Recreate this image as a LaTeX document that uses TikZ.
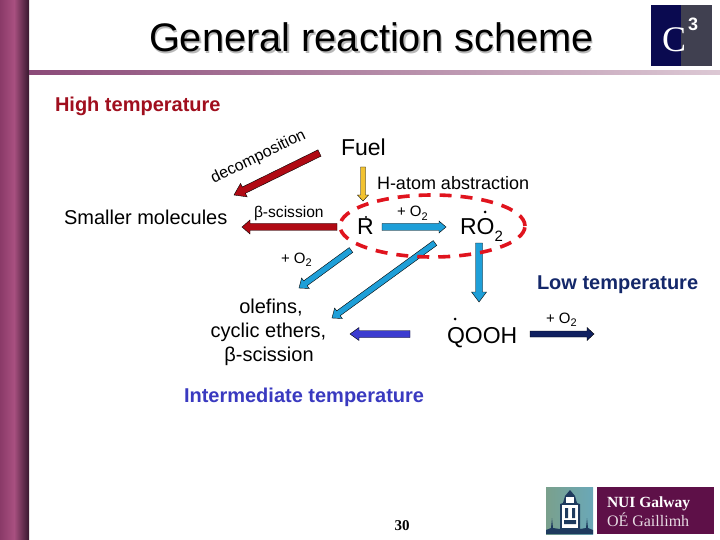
\documentclass[tikz,border=0pt]{standalone}
\usepackage{fontspec}
\setmainfont{Liberation Sans}
\newfontfamily\serifl{Liberation Serif}
\usetikzlibrary{calc,shapes.geometric}
\definecolor{hired}{HTML}{A00F1E}
\definecolor{darkred}{HTML}{B00A14}
\definecolor{ablue}{HTML}{1E9FD8}
\definecolor{indig}{HTML}{3A3AC0}
\definecolor{arrind}{HTML}{3C3CD0}
\definecolor{navyl}{HTML}{14286A}
\definecolor{arrnavy}{HTML}{0F2060}
\definecolor{dashr}{HTML}{E0141E}
\definecolor{yell}{HTML}{F2C230}
\definecolor{barlo}{HTML}{8A3A68}
\definecolor{barhi}{HTML}{A85080}
\definecolor{bardk}{HTML}{38182F}
\definecolor{rulea}{HTML}{8B4A78}
\definecolor{ruleb}{HTML}{DCC8D4}
\definecolor{logoa}{HTML}{0A0A50}
\definecolor{logob}{HTML}{404050}
\definecolor{nuip}{HTML}{5E1048}
\definecolor{nuig}{HTML}{7AA08C}
\definecolor{nuit}{HTML}{6AA8B8}
\definecolor{nuin}{HTML}{1E3A5E}
\newcommand{\blockarrow}[6]{%
  \coordinate (hb) at ($(#3)!#6pt!(#2)$);
  \draw[fill=#1,draw=black,line width=.4pt,line join=miter]
    ($(#2)!#4pt!90:(#3)$) -- ($(hb)!#4pt!90:(#3)$) -- ($(hb)!#5pt!90:(#3)$) -- (#3)
    -- ($(hb)!#5pt!-90:(#3)$) -- ($(hb)!#4pt!-90:(#3)$) -- ($(#2)!#4pt!-90:(#3)$) -- cycle;
}
\newcommand{\fs}[1]{\fontsize{#1}{#1}\selectfont}
\newcommand{\plusO}{\fs{15}+ O\raisebox{-.25em}{\fs{11}2}}
\tikzset{
  lbl/.style={inner sep=0pt,outer sep=0pt,anchor=base west,text=black},
  clbl/.style={inner sep=0pt,outer sep=0pt,anchor=base,text=black,font=\fs{20}},
  rad/.style={circle,fill=black,inner sep=0pt,minimum size=3pt},
}
\begin{document}
\begin{tikzpicture}[x=1pt,y=-1pt]
\useasboundingbox (0,0) rectangle (720,540);
\fill[white] (0,0) rectangle (720,540);
% side bar and rule
\shade[left color=barlo,right color=barhi] (0,0) rectangle (14,540);
\shade[left color=barhi,right color=bardk] (14,0) rectangle (29,540);
\shade[left color=rulea,right color=ruleb] (29,71) rectangle (720,75);
% title
\node[lbl,text=black!28] (titleshadow) at (150.5,53.5) {\fs{39.8}General reaction scheme};
\node[lbl] (title) at (149,52) {\fs{39.8}General reaction scheme};
% C3 logo
\fill[logoa] (651,5) rectangle (681,66);
\fill[logob] (681,5) rectangle (712,66);
\node[lbl,text=white] (logoc) at (662,52) {\serifl\fs{36}C};
\node[lbl,text=white] (logo3) at (688,31) {\bfseries\fs{18}3};
% NUI logo
\shade[left color=nuig,right color=nuit] (546,487) rectangle (593,534);
\fill[nuin] (546,534) -- (546,530) -- (551,528) -- (552,518) -- (553,528) -- (560,529)
  -- (560,504) -- (563,503) -- (565,496) -- (570,490) -- (575,496) -- (577,503) -- (580,504)
  -- (580,529) -- (586,528) -- (587,518) -- (588,528) -- (593,530) -- (593,534) -- cycle;
\fill[white] (562,505) rectangle (578,528);
\fill[white] (566,497) rectangle (574,503);
\fill[nuin] (565,508) rectangle (568,518) (572,508) rectangle (575,518) (564,520) rectangle (576,524);
\fill[nuip] (597,487) rectangle (714,534);
\node[lbl,text=white] (nui1) at (607,507) {\serifl\bfseries\fs{15.5}NUI Galway};
\node[lbl,text=white!85!nuip] (nui2) at (607,526) {\serifl\fs{16}OÉ Gaillimh};
% headings
\node[lbl,text=hired] (high) at (55,112) {\bfseries\fs{20}High temperature};
\node[lbl,text=navyl] (low) at (537,289) {\bfseries\fs{20}Low temperature};
\node[lbl,text=indig] (inter) at (184,402) {\bfseries\fs{20}Intermediate temperature};
% species
\node[lbl] (fuel) at (341,156) {\fs{23}Fuel};
\node[lbl] (small) at (64,225) {\fs{20}Smaller molecules};
\node[lbl] (habs) at (377,190) {\fs{18}H-atom abstraction};
\node[lbl] (beta) at (254,218) {\fs{15.6}β-scission};
\node[inner sep=0pt,rotate=26,text=black] (decomp) at (258.5,157) {\fs{16}decomposition};
\node[lbl] (R) at (357,235) {\fs{23}R};
\node[rad,minimum size=2.2pt] (Rdot) at (366,217) {};
\node[lbl] (RO) at (460,235) {\fs{23}RO\raisebox{-.3em}{\fs{15}2}};
\node[rad] (ROdot) at (485,212) {};
\node[lbl] (QOOH) at (447,343) {\fs{23}QOOH};
\node[rad] (Qdot) at (455,319) {};
\node[lbl] (o1) at (397,217) {\plusO};
\node[lbl] (o2) at (281,263) {\plusO};
\node[lbl] (o3) at (546,323) {\plusO};
\node[clbl] (ole1) at (271,313) {olefins,};
\node[clbl] (ole2) at (268.5,337) {cyclic ethers,};
\node[clbl] (ole3) at (269,361.5) {β-scission};
\node[inner sep=0pt,anchor=base,text=black] (page) at (402,530) {\serifl\bfseries\fs{15}30};
% connector ends
\coordinate (a1) at (319.5,153); \coordinate (a2) at (234,195);
\coordinate (b1) at (337,227);   \coordinate (b2) at (242,227);
\coordinate (c1) at (363,167);   \coordinate (c2) at (363,201);
\coordinate (d1) at (382,227);   \coordinate (d2) at (446,227);
\coordinate (e1) at (479,243);   \coordinate (e2) at (479,302);
\coordinate (f1) at (351,250);   \coordinate (f2) at (299,288);
\coordinate (g1) at (435,243);   \coordinate (g2) at (332,318);
\coordinate (h1) at (410,334);   \coordinate (h2) at (350,334);
\coordinate (i1) at (530,334);   \coordinate (i2) at (594,334);
\blockarrow{darkred}{a1}{a2}{3.5}{7.5}{11}
\blockarrow{darkred}{b1}{b2}{3.5}{7}{8}
\blockarrow{yell}{c1}{c2}{2.5}{5.5}{6}
\blockarrow{ablue}{d1}{d2}{3.5}{6}{7}
\blockarrow{ablue}{e1}{e2}{3.5}{7.5}{10}
\blockarrow{ablue}{f1}{f2}{3}{6.5}{8}
\blockarrow{ablue}{g1}{g2}{3}{6.5}{8}
\blockarrow{arrind}{h1}{h2}{3.5}{6.5}{9}
\blockarrow{arrnavy}{i1}{i2}{3}{6.5}{7}
% dashed ellipse
\node[ellipse,draw=dashr,line width=3.6pt,dash pattern=on 12pt off 9pt,
  minimum width=185pt,minimum height=62pt,inner sep=0pt] (loop) at (432.5,226) {};
\end{tikzpicture}
\end{document}
